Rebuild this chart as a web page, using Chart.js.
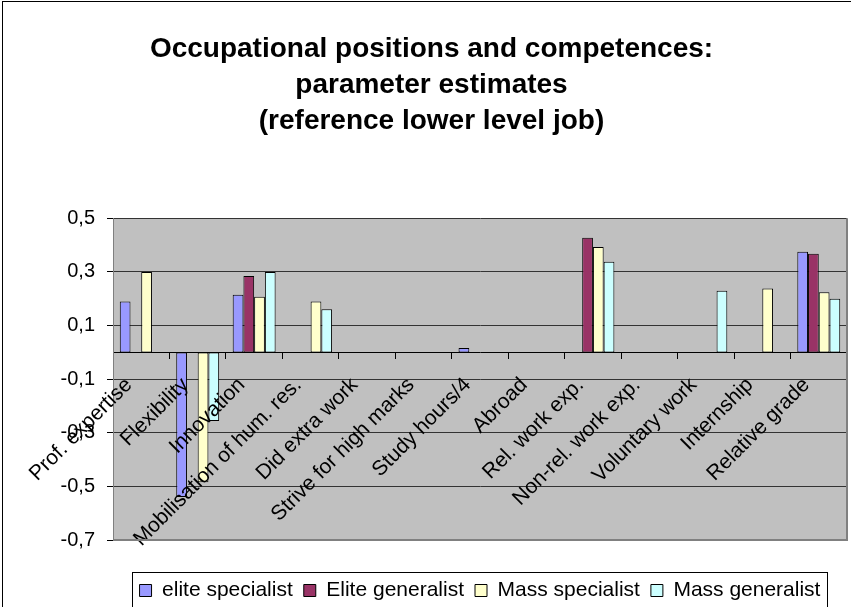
<!DOCTYPE html>
<html>
<head>
<meta charset="utf-8">
<script src="https://cdn.jsdelivr.net/npm/chart.js@4/dist/chart.umd.min.js"></script>
<style>
  html, body { margin: 0; padding: 0; background: #fff; overflow: hidden; }
  canvas { display: block; }
</style>
</head>
<body>
<canvas id="bar-chart" width="851" height="611"></canvas>
<script>
// chart data
const titleLines = ['Occupational positions and competences:', 'parameter estimates', '(reference lower level job)'];
const categories = ['Prof. expertise', 'Flexibility', 'Innovation', 'Mobilisation of hum. res.', 'Did extra work',
  'Strive for high marks', 'Study hours/4', 'Abroad', 'Rel. work exp.', 'Non-rel. work exp.',
  'Voluntary work', 'Internship', 'Relative grade'];
const seriesNames = ['elite specialist', 'Elite generalist', 'Mass specialist', 'Mass generalist'];
const eliteSpecialist = [0.19, -0.54, 0.215, null, null, null, 0.016, null, null, null, null, null, 0.375];
const eliteGeneralist = [null, null, 0.285, null, null, null, null, null, 0.428, null, null, null, 0.368];
const massSpecialist = [0.30, -0.485, 0.208, 0.19, null, null, null, null, 0.393, null, null, 0.238, 0.224];
const massGeneralist = [null, -0.256, 0.30, 0.161, null, null, null, null, 0.338, null, 0.23, null, 0.20];
const seriesColors = ['#9999ff', '#993366', '#ffffcc', '#ccffff'];

Chart.defaults.font.family = '"Liberation Sans", Arial, sans-serif';
Chart.defaults.color = '#000';

// grey plot area, frames round the plot, the legend and the whole chart
const chartFrames = {
  id: 'chartFrames',
  beforeDraw(chart) {
    const {ctx, chartArea: a} = chart;
    ctx.save();
    ctx.fillStyle = '#c0c0c0';
    ctx.fillRect(a.left, a.top, a.right - a.left, a.bottom - a.top);
    ctx.restore();
  },
  afterDraw(chart) {
    const {ctx, chartArea: a} = chart;
    ctx.save();
    ctx.strokeStyle = '#808080';
    ctx.lineWidth = 2;
    ctx.beginPath();
    ctx.moveTo(a.right, a.top);
    ctx.lineTo(a.right, a.bottom);
    ctx.lineTo(a.left, a.bottom);
    ctx.stroke();

    const boxes = chart.legend.legendHitBoxes;
    const last = boxes[boxes.length - 1];
    const left = Math.round(boxes[0].left - 8) + 0.5;
    const right = Math.round(last.left + last.width + 7) + 0.5;
    const top = Math.round(boxes[0].top - 8) + 0.5;
    ctx.strokeStyle = '#000';
    ctx.lineWidth = 1;
    ctx.strokeRect(left, top, right - left, 100);

    ctx.strokeRect(2.5, 1.5, 1000, 1000);
    ctx.restore();
  }
};

const seriesData = [eliteSpecialist, eliteGeneralist, massSpecialist, massGeneralist];

new Chart(document.getElementById('bar-chart'), {
  type: 'bar',
  data: {
    labels: categories,
    datasets: seriesNames.map((name, i) => ({
      label: name,
      data: seriesData[i],
      backgroundColor: seriesColors[i],
      borderColor: '#000',
      borderWidth: 1,
      borderSkipped: false,
      barPercentage: 1,
      categoryPercentage: 0.76
    }))
  },
  options: {
    responsive: false,
    animation: false,
    events: [],
    layout: { padding: { left: 16, right: 4, top: 0, bottom: 0 } },
    plugins: {
      title: {
        display: true,
        text: titleLines,
        font: { size: 28, weight: 'bold', lineHeight: 1.29 },
        color: '#000',
        padding: { top: 31, bottom: 79 }
      },
      legend: {
        position: 'bottom',
        fullSize: false,
        title: { display: true, text: '', font: { size: 1, lineHeight: 1 }, padding: { top: 0, bottom: 28 } },
        labels: { font: { size: 21 }, boxWidth: 12, boxHeight: 12, padding: 11, color: '#000' }
      },
      tooltip: { enabled: false }
    },
    scales: {
      x: {
        position: { y: 0 },
        offset: true,
        grid: { drawOnChartArea: false, drawTicks: true, tickLength: 6, tickColor: '#000', offset: true },
        border: { display: true, color: '#000', width: 1 },
        ticks: {
          z: 1,   // labels go over the bars
          autoSkip: false,
          minRotation: 45,
          maxRotation: 45,
          padding: 2,
          font: { size: 21 },
          color: '#000',
          // trailing blanks push the rotated text down and left, like Excel did
          callback: (v, i) => categories[i] + '   '
        }
      },
      y: {
        min: -0.7,
        max: 0.5,
        afterFit: (scale) => { scale.width = 97; },
        grid: { color: '#333', tickColor: '#000', tickLength: 6 },
        border: { color: '#808080', width: 1 },
        ticks: {
          stepSize: 0.2,
          padding: 12,
          font: { size: 20 },
          color: '#000',
          callback: (v) => v.toFixed(1).replace('.', ',')
        }
      }
    }
  },
  plugins: [chartFrames]
});
</script>
</body>
</html>
